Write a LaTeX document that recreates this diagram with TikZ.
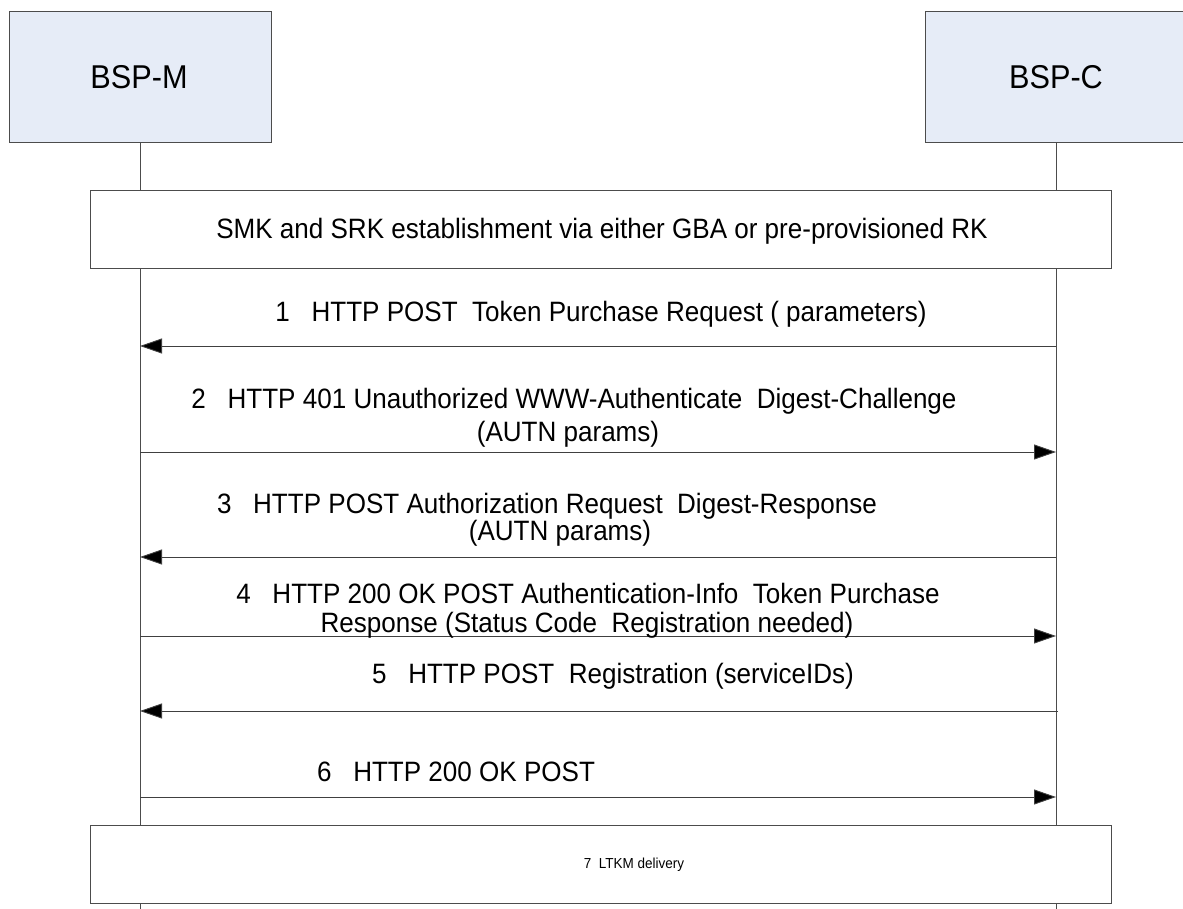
\documentclass[tikz,border=0pt]{standalone}
\usepackage{fontspec}
\setmainfont{Liberation Sans}
\newfontfamily\narrowfont[FakeStretch=0.93]{Liberation Sans}
\usetikzlibrary{arrows.meta}
\definecolor{boxblue}{RGB}{230,236,247}
\begin{document}
\begin{tikzpicture}[x=1pt,y=-1pt,
  actor/.style={draw=black!70, fill=boxblue, line width=0.9pt, minimum width=262pt, minimum height=131pt, inner sep=0pt},
  phase/.style={draw=black!70, fill=white, line width=0.9pt, minimum width=1021pt, minimum height=78pt, inner sep=0pt},
  life/.style={draw=black!70, line width=0.9pt},
  msg/.style={draw=black!75, line width=0.9pt, -{Triangle[length=22pt,width=15pt,fill=black]}},
  lbl/.style={font=\narrowfont\fontsize{28}{32}\selectfont, anchor=base, inner sep=0pt},
  big/.style={font=\narrowfont\fontsize{33}{38}\selectfont, anchor=base, inner sep=0pt},
  small/.style={font=\narrowfont\fontsize{14.5}{17}\selectfont, anchor=base, inner sep=0pt}]
\useasboundingbox (0,0) rectangle (1183,909);
\clip (0,0) rectangle (1183,909);
% actors
\node[actor] (M) at (140,76.5) {};
\node[actor] (C) at (1056,76.5) {};
\node[big] (Mt) at (139,89) {BSP-M};
\node[big] (Ct) at (1056,89) {BSP-C};
% lifelines
\coordinate (Mend) at (140,909);
\coordinate (Cend) at (1056,909);
\draw[life] (M.south) -- (Mend);
\draw[life] (C.south) -- (Cend);
% phases
\node[phase] (smk) at (600.5,229) {};
\node[lbl] (smkt) at (602,239) {SMK and SRK establishment via either GBA or pre-provisioned RK};
\node[phase] (ltkm) at (600.5,864) {};
\node[small] (ltkmt) at (634,868) {7\ \ LTKM delivery};
% message end points
\coordinate (M1) at (140,346); \coordinate (C1) at (1056,346);
\coordinate (M2) at (140,452); \coordinate (C2) at (1056,452);
\coordinate (M3) at (140,557); \coordinate (C3) at (1056,557);
\coordinate (M4) at (140,636); \coordinate (C4) at (1056,636);
\coordinate (M5) at (140,711); \coordinate (C5) at (1058,711);
\coordinate (M6) at (140,797); \coordinate (C6) at (1056,797);
\draw[msg] (C1) -- (M1);
\draw[msg] (M2) -- (C2);
\draw[msg] (C3) -- (M3);
\draw[msg] (M4) -- (C4);
\draw[msg] (C5) -- (M5);
\draw[msg] (M6) -- (C6);
% labels
\node[lbl] (l1) at (601,321) {1\ \ \ HTTP POST\ \ Token Purchase Request ( parameters)};
\node[lbl] (l2a) at (574,408) {2\ \ \ HTTP 401 Unauthorized WWW-Authenticate\ \ Digest-Challenge};
\node[lbl] (l2b) at (568,441) {(AUTN params)};
\node[lbl] (l3a) at (547,513) {3\ \ \ HTTP POST Authorization Request\ \ Digest-Response};
\node[lbl] (l3b) at (560,540) {(AUTN params)};
\node[lbl] (l4a) at (588,603) {4\ \ \ HTTP 200 OK POST Authentication-Info\ \ Token Purchase};
\node[lbl] (l4b) at (587,632) {Response (Status Code\ \ Registration needed)};
\node[lbl] (l5) at (613,683) {5\ \ \ HTTP POST\ \ Registration (serviceIDs)};
\node[lbl] (l6) at (456,781) {6\ \ \ HTTP 200 OK POST};
\end{tikzpicture}
\end{document}
